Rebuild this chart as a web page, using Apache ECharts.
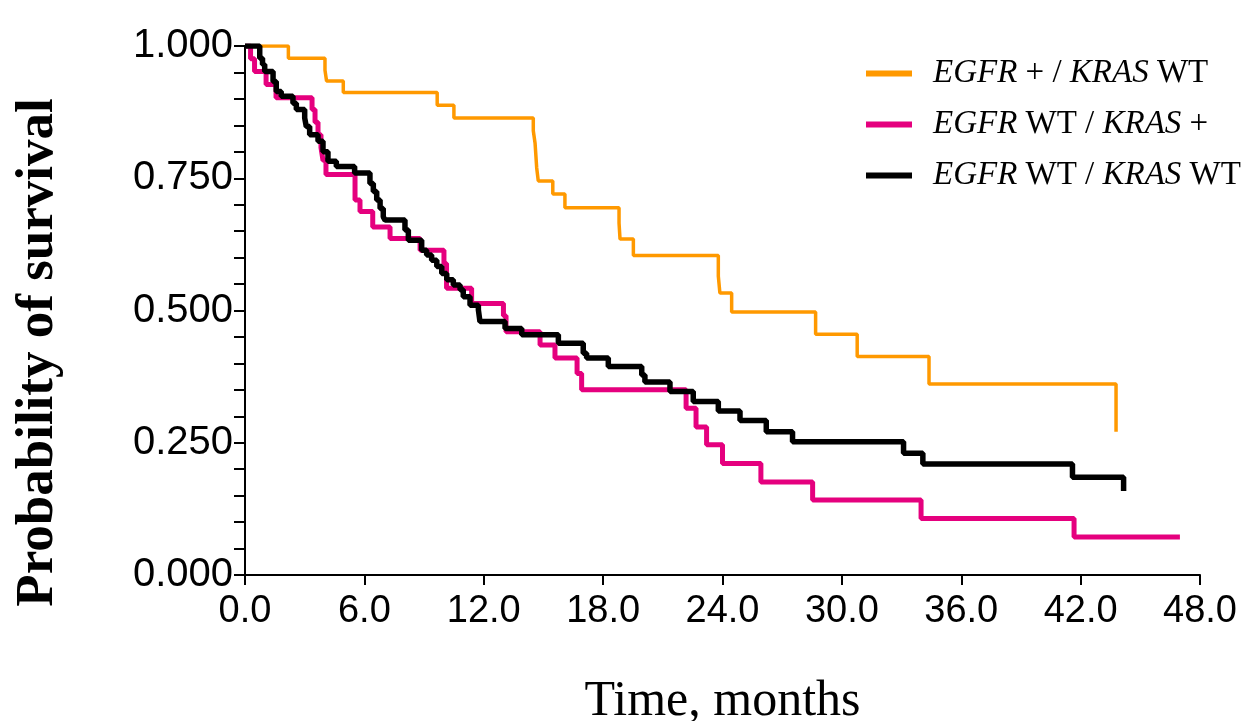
<!DOCTYPE html>
<html>
<head>
<meta charset="utf-8">
<script src="https://cdn.jsdelivr.net/npm/echarts@6/dist/echarts.min.js"></script>
<style>
html,body{margin:0;padding:0;background:#fff;}
#chart{width:1252px;height:721px;}
</style>
</head>
<body>
<div id="chart"></div>
<script>
// Series names (legend)
const seriesNames = ['EGFR + / KRAS WT', 'EGFR WT / KRAS +', 'EGFR WT / KRAS WT'];
const seriesColors = ['#FF9900', '#E5007E', '#000000'];

// Kaplan-Meier steps: time (months) of each drop and survival after it
const egfrTime = [0, 2.18, 4.02, 4.10, 4.94, 9.66, 10.50, 14.49, 14.58, 14.66, 14.74, 15.47, 16.08, 18.80, 18.85, 19.52, 23.79, 23.87, 24.46, 28.68, 30.77, 34.38, 43.78];
const egfrSurv = [1.000, 0.977, 0.954, 0.934, 0.912, 0.888, 0.864, 0.840, 0.816, 0.770, 0.745, 0.720, 0.694, 0.665, 0.635, 0.604, 0.565, 0.533, 0.497, 0.455, 0.413, 0.361, 0.271];

const krasTime = [0, 0.28, 0.48, 1.06, 1.56, 3.37, 3.52, 3.67, 3.82, 3.92, 4.07, 5.53, 5.78, 6.42, 7.29, 8.80, 10.00, 10.13, 11.39, 12.99, 13.12, 14.83, 15.58, 16.69, 16.92, 22.17, 22.67, 23.20, 24.00, 25.93, 28.53, 33.98, 41.67, 46.99];
const krasSurv = [1.000, 0.976, 0.952, 0.927, 0.902, 0.880, 0.856, 0.832, 0.808, 0.784, 0.757, 0.709, 0.687, 0.658, 0.636, 0.614, 0.589, 0.542, 0.513, 0.490, 0.460, 0.435, 0.410, 0.381, 0.350, 0.315, 0.280, 0.246, 0.211, 0.176, 0.142, 0.107, 0.072, 0.072];

const wtTime = [0, 0.74, 0.88, 0.99, 1.41, 1.57, 1.82, 2.41, 2.58, 3.00, 3.08, 3.25, 3.67, 3.92, 4.17, 4.59, 5.51, 6.28, 6.45, 6.62, 6.79, 6.95, 7.04, 8.04, 8.21, 8.88, 9.13, 9.38, 9.64, 9.89, 10.14, 10.47, 10.81, 10.97, 11.31, 11.73, 11.81, 13.07, 13.91, 15.75, 17.00, 17.17, 18.26, 19.94, 20.10, 21.36, 22.53, 23.79, 24.88, 26.20, 27.52, 33.10, 34.07, 41.59, 44.16];
const wtSurv = [1.000, 0.977, 0.965, 0.952, 0.933, 0.914, 0.905, 0.892, 0.880, 0.864, 0.848, 0.832, 0.820, 0.800, 0.782, 0.772, 0.760, 0.740, 0.725, 0.709, 0.693, 0.677, 0.671, 0.652, 0.633, 0.614, 0.605, 0.595, 0.583, 0.570, 0.558, 0.548, 0.539, 0.526, 0.510, 0.501, 0.479, 0.466, 0.454, 0.438, 0.419, 0.410, 0.394, 0.378, 0.365, 0.347, 0.328, 0.310, 0.292, 0.271, 0.252, 0.230, 0.210, 0.185, 0.159];

// Axis ticks
const xTicks = [0, 6, 12, 18, 24, 30, 36, 42, 48];
const yTicks = [0, 0.25, 0.5, 0.75, 1.0];

const zip = (a, b) => a.map((v, i) => [v, b[i]]);

const richName = {
  'EGFR + / KRAS WT': '{i|EGFR}{n| + / }{i|KRAS}{n| WT}',
  'EGFR WT / KRAS +': '{i|EGFR}{n| WT / }{i|KRAS}{n| +}',
  'EGFR WT / KRAS WT': '{i|EGFR}{n| WT / }{i|KRAS}{n| WT}'
};

const serif = '"Liberation Serif", "Times New Roman", serif';
const sans = '"Liberation Sans", Arial, sans-serif';

const chart = echarts.init(document.getElementById('chart'));
chart.setOption({
  animation: false,
  backgroundColor: '#ffffff',
  grid: { left: 245, right: 52, top: 46, bottom: 146, containLabel: false, outerBoundsMode: 'none' },
  legend: {
    orient: 'vertical',
    left: 861,
    top: 52,
    itemWidth: 46,
    itemHeight: 6,
    itemGap: 18,
    icon: 'rect',
    data: seriesNames,
    formatter: n => richName[n],
    textStyle: {
      color: '#000',
      padding: [0, 0, 0, 16],
      rich: {
        i: { fontFamily: serif, fontStyle: 'italic', fontSize: 33, color: '#000', lineHeight: 34 },
        n: { fontFamily: serif, fontSize: 33, color: '#000', lineHeight: 34 }
      }
    }
  },
  xAxis: {
    type: 'value',
    min: xTicks[0],
    max: xTicks[xTicks.length - 1],
    interval: 6,
    name: 'Time, months',
    nameLocation: 'middle',
    nameGap: 102,
    nameTextStyle: { fontFamily: serif, fontSize: 50, color: '#000' },
    axisLine: { show: true, onZero: false, lineStyle: { color: '#000', width: 2 } },
    axisTick: { show: true, length: 10, lineStyle: { color: '#000', width: 2 } },
    axisLabel: { margin: 18, fontFamily: sans, fontSize: 38, color: '#000', formatter: v => v.toFixed(1) },
    splitLine: { show: false }
  },
  yAxis: {
    type: 'value',
    min: yTicks[0],
    max: yTicks[yTicks.length - 1],
    interval: 0.25,
    name: 'Probability of survival',
    nameLocation: 'middle',
    nameGap: 180,
    nameTextStyle: { fontFamily: serif, fontSize: 53, fontWeight: 'bold', color: '#000', padding: [0, 84, 0, 0] },
    axisLine: { show: true, onZero: false, lineStyle: { color: '#000', width: 2 } },
    axisTick: { show: true, length: 11, lineStyle: { color: '#000', width: 2 } },
    minorTick: { show: true, splitNumber: 5, length: 11, lineStyle: { color: '#000', width: 2 } },
    axisLabel: { margin: 12, fontFamily: sans, fontSize: 40, color: '#000', formatter: v => v.toFixed(3) },
    splitLine: { show: false }
  },
  series: [
    { name: seriesNames[0], type: 'line', step: 'end', showSymbol: false, data: zip(egfrTime, egfrSurv),
      color: seriesColors[0], lineStyle: { color: seriesColors[0], width: 3.5 } },
    { name: seriesNames[1], type: 'line', step: 'end', showSymbol: false, data: zip(krasTime, krasSurv),
      color: seriesColors[1], lineStyle: { color: seriesColors[1], width: 5 } },
    { name: seriesNames[2], type: 'line', step: 'end', showSymbol: false, data: zip(wtTime, wtSurv),
      color: seriesColors[2], lineStyle: { color: seriesColors[2], width: 5.5 } }
  ]
});
</script>
</body>
</html>
